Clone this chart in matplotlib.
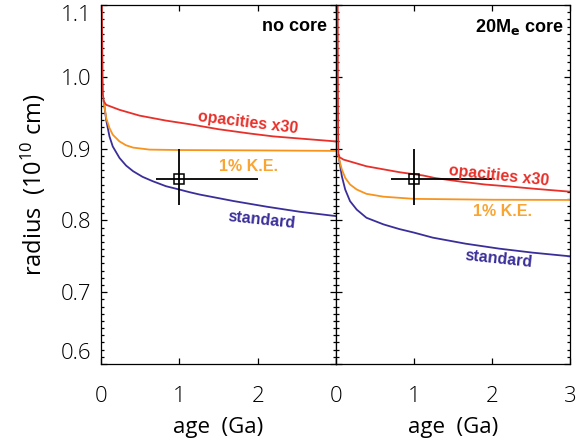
import numpy as np
import matplotlib
matplotlib.use('Agg')
import matplotlib.pyplot as plt
from matplotlib.ticker import MultipleLocator

plt.rcParams['font.family'] = ['Open Sans', 'DejaVu Sans']
plt.rcParams['font.weight'] = 'light'
plt.rcParams['mathtext.default'] = 'regular'

# no core panel
t_red_L = [0.008, 0.015, 0.02, 0.025, 0.035, 0.066, 0.236, 0.49, 0.83, 1.13, 1.5, 1.9, 2.2, 2.54, 3.0]
r_red_L = [1.15, 1.05, 1.0, 0.975, 0.966, 0.961, 0.954, 0.946, 0.939, 0.934, 0.927, 0.921, 0.917, 0.914, 0.910]
t_or_L = [0.035, 0.045, 0.066, 0.108, 0.15, 0.236, 0.32, 0.41, 0.62, 1.0, 2.0, 3.0]
r_or_L = [0.966, 0.958, 0.9426, 0.9287, 0.9194, 0.910, 0.9046, 0.9014, 0.8986, 0.898, 0.8975, 0.8968]
t_bl_L = [0.035, 0.045, 0.066, 0.108, 0.15, 0.236, 0.32, 0.41, 0.53, 0.66, 0.83, 1.0, 1.13, 1.26, 1.5, 1.69, 2.12, 2.54, 3.0]
r_bl_L = [0.966, 0.958, 0.940, 0.917, 0.903, 0.887, 0.8764, 0.8685, 0.8607, 0.8546, 0.8476, 0.843, 0.8393, 0.836, 0.831, 0.827, 0.819, 0.812, 0.806]

# 20 Me core panel
t_red_R = [0.02, 0.024, 0.027, 0.03, 0.045, 0.096, 0.39, 0.82, 1.12, 1.27, 1.6, 1.91, 2.25, 2.55, 3.0]
r_red_R = [1.15, 1.0, 0.92, 0.893, 0.888, 0.8847, 0.8754, 0.867, 0.8625, 0.859, 0.854, 0.850, 0.847, 0.844, 0.840]
t_or_R = [0.03, 0.04, 0.075, 0.118, 0.18, 0.266, 0.39, 0.61, 1.0, 2.0, 3.0]
r_or_R = [0.891, 0.885, 0.871, 0.8593, 0.850, 0.843, 0.837, 0.833, 0.830, 0.8288, 0.8285]
t_bl_R = [0.03, 0.04, 0.075, 0.118, 0.18, 0.266, 0.39, 0.61, 0.81, 1.0, 1.24, 1.66, 2.09, 2.52, 3.0]
r_bl_R = [0.891, 0.885, 0.8615, 0.843, 0.8268, 0.815, 0.8037, 0.7944, 0.788, 0.783, 0.776, 0.7676, 0.7607, 0.7551, 0.750]

# observed planet
obs_age = [1.0]
obs_r = [0.857]
age_err = [[0.3], [1.0]]
r_err = [[0.036], [0.043]]

red = '#E8302A'
orange = '#F7941E'
blue = '#3A2F9A'

fig = plt.figure(figsize=(5.76, 4.43), dpi=100)
ax1 = fig.add_axes([101/576, 79/443, 235/576, 359/443])
ax2 = fig.add_axes([336/576, 79/443, 234/576, 359/443])

curves = [
    (ax1, t_red_L, r_red_L, t_or_L, r_or_L, t_bl_L, r_bl_L),
    (ax2, t_red_R, r_red_R, t_or_R, r_or_R, t_bl_R, r_bl_R),
]
for ax, tr, rr, to, ro, tb, rb in curves:
    ax.plot(tb, rb, color=blue, lw=1.3)
    ax.plot(to, ro, color=orange, lw=1.3)
    ax.plot(tr, rr, color=red, lw=1.3)
    ax.errorbar(obs_age, obs_r, xerr=age_err, yerr=r_err, fmt='s', mfc='none',
                mec='black', ms=6.5, mew=1.1, ecolor='black', elinewidth=1.3, capsize=0)
    ax.set_xlim(0, 3)
    ax.set_ylim(0.6, 1.1)
    ax.xaxis.set_major_locator(MultipleLocator(1))
    ax.yaxis.set_major_locator(MultipleLocator(0.1))
    ax.yaxis.set_minor_locator(MultipleLocator(0.01))
    ax.tick_params(which='both', direction='in', top=True, right=True, width=0.9)
    ax.tick_params(which='major', length=4.5)
    ax.tick_params(which='minor', length=2.2)
    ax.tick_params(axis='x', pad=16, labelsize=16)
    ax.tick_params(axis='y', pad=7, labelsize=16)
    for s in ax.spines.values():
        s.set_linewidth(0.9)
    ax.set_xlabel('age  (Ga)', fontsize=16, labelpad=7)

ax1.set_xticks([0, 1, 2, 3])
ax1.set_xticklabels(['0', '1', '2', ''])
ax1.set_yticks([0.6, 0.7, 0.8, 0.9, 1.0, 1.1])
ylabels = ax1.set_yticklabels(['0.6', '0.7', '0.8', '0.9', '1.0', '1.1'])
ylabels[0].set_va('bottom')
ylabels[-1].set_va('top')
ax1.set_ylabel('radius  (10$^{10}$ cm)', fontsize=17, labelpad=9)
ax2.tick_params(axis='y', labelleft=False)

bold = dict(family='Liberation Sans', fontweight='bold')
ax1.text(0.962, 0.94, 'no core', transform=ax1.transAxes, ha='right', va='center',
         fontsize=13, color='black', **bold)
ax2.text(0.974, 0.94, r'20M$_\mathbf{e}$ core', transform=ax2.transAxes, ha='right',
         va='center', fontsize=13, color='black', **bold)

ax1.text(1.88, 0.936, 'opacities x30', ha='center', va='center', rotation=-7,
         fontsize=11.5, color=red, **bold)
ax1.text(1.88, 0.8755, '1% K.E.', ha='center', va='center', fontsize=11.5,
         color='#F9A533', **bold)
ax1.text(2.05, 0.801, 'standard', ha='center', va='center', rotation=-6,
         fontsize=11.5, color=blue, **bold)

ax2.text(2.09, 0.862, 'opacities x30', ha='center', va='center', rotation=-6,
         fontsize=11.5, color=red, **bold)
ax2.text(2.14, 0.813, '1% K.E.', ha='center', va='center', fontsize=11.5,
         color='#F9A533', **bold)
ax2.text(2.09, 0.746, 'standard', ha='center', va='center', rotation=-6,
         fontsize=11.5, color=blue, **bold)

fig.savefig('out.png', dpi=100)
